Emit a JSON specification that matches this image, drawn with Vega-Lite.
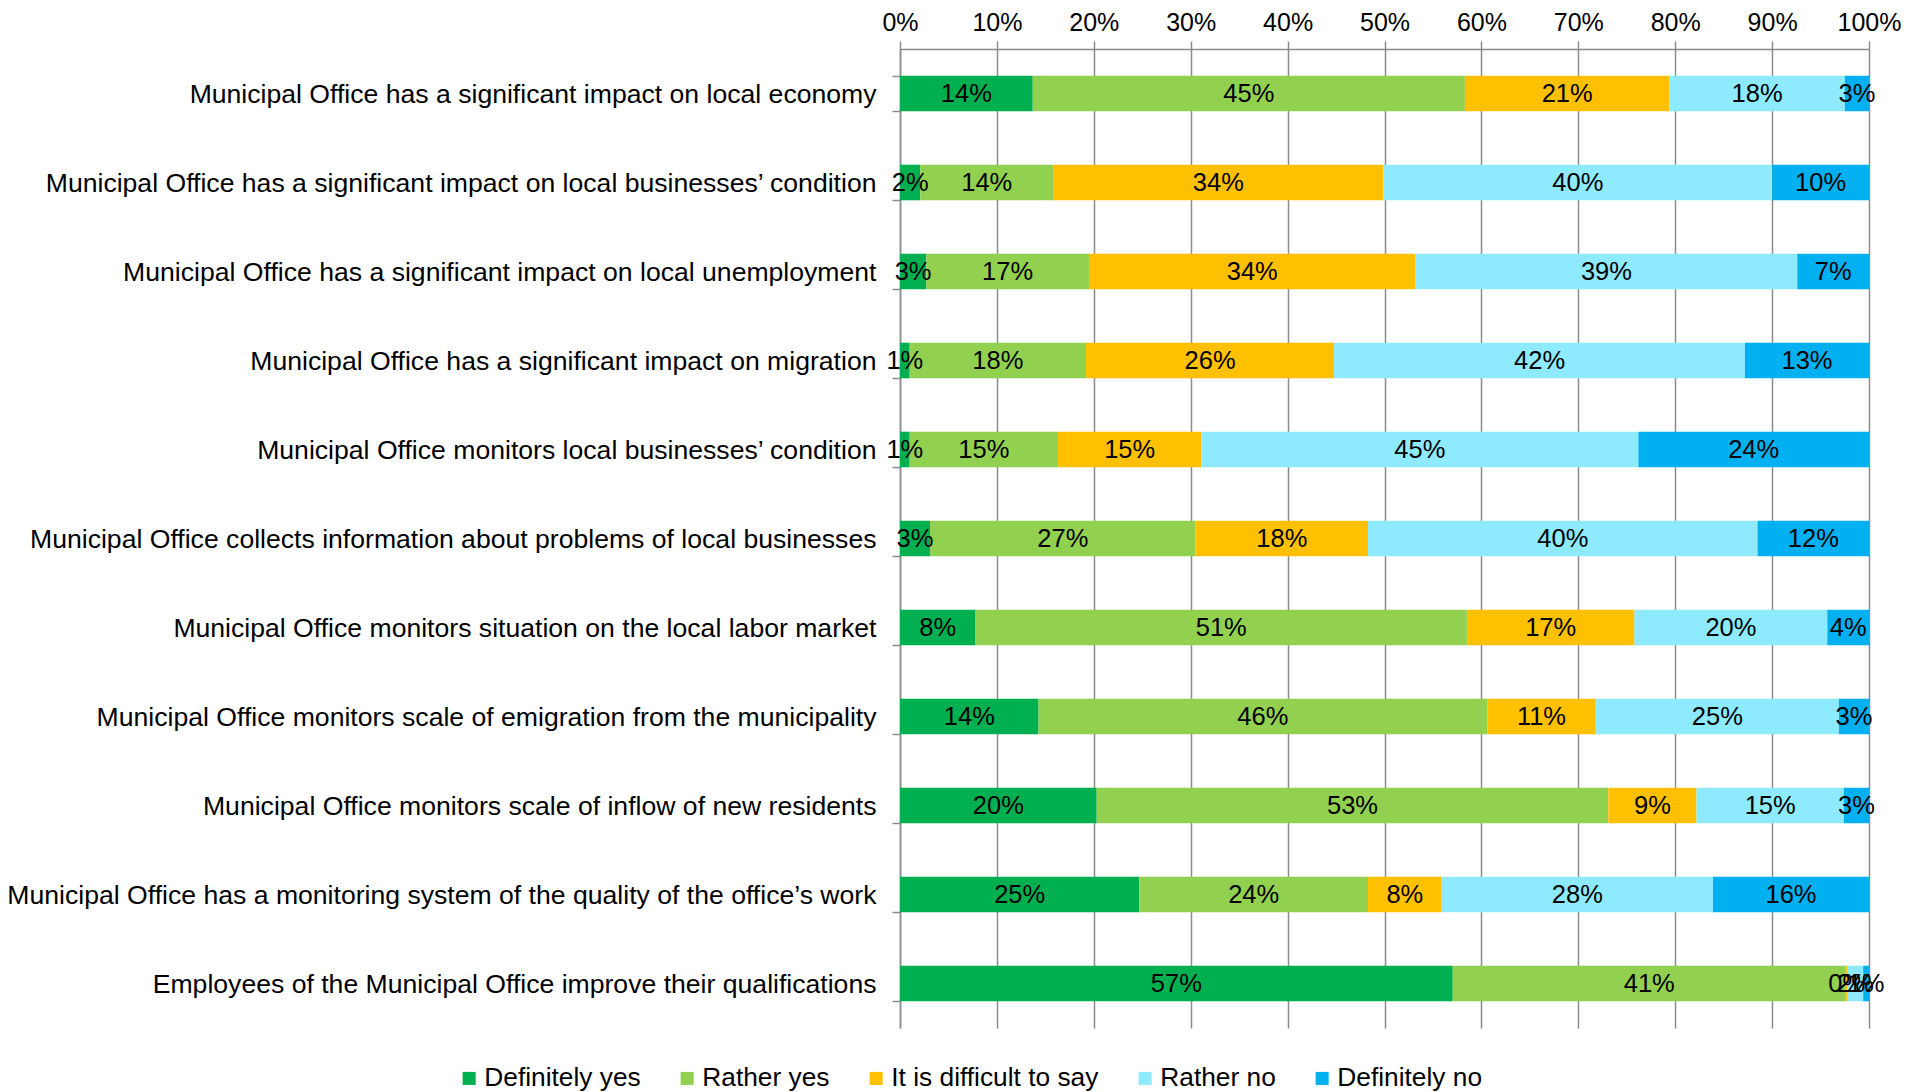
{
  "$schema": "https://vega.github.io/schema/vega-lite/v6.json",
  "autosize": {"type": "none"},
  "padding": {"left": 900, "top": 49, "right": 38, "bottom": 64},
  "width": 969,
  "height": 979,
  "background": "white",
  "config": {
    "font": "Liberation Sans",
    "view": {"stroke": null},
    "axis": {"labelFont": "Liberation Sans", "labelColor": "#000000"},
    "legend": {"labelFont": "Liberation Sans"}
  },
  "data": {
    "values": [
      {"q": "Municipal Office has a significant impact on local economy", "answer": "Definitely yes", "order": 1, "value": 13.7},
      {"q": "Municipal Office has a significant impact on local economy", "answer": "Rather yes", "order": 2, "value": 44.6},
      {"q": "Municipal Office has a significant impact on local economy", "answer": "It is difficult to say", "order": 3, "value": 21.1},
      {"q": "Municipal Office has a significant impact on local economy", "answer": "Rather no", "order": 4, "value": 18.1},
      {"q": "Municipal Office has a significant impact on local economy", "answer": "Definitely no", "order": 5, "value": 2.5},
      {"q": "Municipal Office has a significant impact on local businesses’ condition", "answer": "Definitely yes", "order": 1, "value": 2.1},
      {"q": "Municipal Office has a significant impact on local businesses’ condition", "answer": "Rather yes", "order": 2, "value": 13.7},
      {"q": "Municipal Office has a significant impact on local businesses’ condition", "answer": "It is difficult to say", "order": 3, "value": 34.1},
      {"q": "Municipal Office has a significant impact on local businesses’ condition", "answer": "Rather no", "order": 4, "value": 40.1},
      {"q": "Municipal Office has a significant impact on local businesses’ condition", "answer": "Definitely no", "order": 5, "value": 10.0},
      {"q": "Municipal Office has a significant impact on local unemployment", "answer": "Definitely yes", "order": 1, "value": 2.7},
      {"q": "Municipal Office has a significant impact on local unemployment", "answer": "Rather yes", "order": 2, "value": 16.8},
      {"q": "Municipal Office has a significant impact on local unemployment", "answer": "It is difficult to say", "order": 3, "value": 33.7},
      {"q": "Municipal Office has a significant impact on local unemployment", "answer": "Rather no", "order": 4, "value": 39.4},
      {"q": "Municipal Office has a significant impact on local unemployment", "answer": "Definitely no", "order": 5, "value": 7.4},
      {"q": "Municipal Office has a significant impact on migration", "answer": "Definitely yes", "order": 1, "value": 1.0},
      {"q": "Municipal Office has a significant impact on migration", "answer": "Rather yes", "order": 2, "value": 18.2},
      {"q": "Municipal Office has a significant impact on migration", "answer": "It is difficult to say", "order": 3, "value": 25.6},
      {"q": "Municipal Office has a significant impact on migration", "answer": "Rather no", "order": 4, "value": 42.4},
      {"q": "Municipal Office has a significant impact on migration", "answer": "Definitely no", "order": 5, "value": 12.8},
      {"q": "Municipal Office monitors local businesses’ condition", "answer": "Definitely yes", "order": 1, "value": 1.0},
      {"q": "Municipal Office monitors local businesses’ condition", "answer": "Rather yes", "order": 2, "value": 15.3},
      {"q": "Municipal Office monitors local businesses’ condition", "answer": "It is difficult to say", "order": 3, "value": 14.8},
      {"q": "Municipal Office monitors local businesses’ condition", "answer": "Rather no", "order": 4, "value": 45.1},
      {"q": "Municipal Office monitors local businesses’ condition", "answer": "Definitely no", "order": 5, "value": 23.8},
      {"q": "Municipal Office collects information about problems of local businesses", "answer": "Definitely yes", "order": 1, "value": 3.1},
      {"q": "Municipal Office collects information about problems of local businesses", "answer": "Rather yes", "order": 2, "value": 27.4},
      {"q": "Municipal Office collects information about problems of local businesses", "answer": "It is difficult to say", "order": 3, "value": 17.8},
      {"q": "Municipal Office collects information about problems of local businesses", "answer": "Rather no", "order": 4, "value": 40.2},
      {"q": "Municipal Office collects information about problems of local businesses", "answer": "Definitely no", "order": 5, "value": 11.5},
      {"q": "Municipal Office monitors situation on the local labor market", "answer": "Definitely yes", "order": 1, "value": 7.8},
      {"q": "Municipal Office monitors situation on the local labor market", "answer": "Rather yes", "order": 2, "value": 50.7},
      {"q": "Municipal Office monitors situation on the local labor market", "answer": "It is difficult to say", "order": 3, "value": 17.3},
      {"q": "Municipal Office monitors situation on the local labor market", "answer": "Rather no", "order": 4, "value": 19.9},
      {"q": "Municipal Office monitors situation on the local labor market", "answer": "Definitely no", "order": 5, "value": 4.3},
      {"q": "Municipal Office monitors scale of emigration from the municipality", "answer": "Definitely yes", "order": 1, "value": 14.3},
      {"q": "Municipal Office monitors scale of emigration from the municipality", "answer": "Rather yes", "order": 2, "value": 46.3},
      {"q": "Municipal Office monitors scale of emigration from the municipality", "answer": "It is difficult to say", "order": 3, "value": 11.2},
      {"q": "Municipal Office monitors scale of emigration from the municipality", "answer": "Rather no", "order": 4, "value": 25.1},
      {"q": "Municipal Office monitors scale of emigration from the municipality", "answer": "Definitely no", "order": 5, "value": 3.1},
      {"q": "Municipal Office monitors scale of inflow of new residents", "answer": "Definitely yes", "order": 1, "value": 20.3},
      {"q": "Municipal Office monitors scale of inflow of new residents", "answer": "Rather yes", "order": 2, "value": 52.8},
      {"q": "Municipal Office monitors scale of inflow of new residents", "answer": "It is difficult to say", "order": 3, "value": 9.1},
      {"q": "Municipal Office monitors scale of inflow of new residents", "answer": "Rather no", "order": 4, "value": 15.2},
      {"q": "Municipal Office monitors scale of inflow of new residents", "answer": "Definitely no", "order": 5, "value": 2.6},
      {"q": "Municipal Office has a monitoring system of the quality of the office’s work", "answer": "Definitely yes", "order": 1, "value": 24.7},
      {"q": "Municipal Office has a monitoring system of the quality of the office’s work", "answer": "Rather yes", "order": 2, "value": 23.6},
      {"q": "Municipal Office has a monitoring system of the quality of the office’s work", "answer": "It is difficult to say", "order": 3, "value": 7.6},
      {"q": "Municipal Office has a monitoring system of the quality of the office’s work", "answer": "Rather no", "order": 4, "value": 28.0},
      {"q": "Municipal Office has a monitoring system of the quality of the office’s work", "answer": "Definitely no", "order": 5, "value": 16.1},
      {"q": "Employees of the Municipal Office improve their qualifications", "answer": "Definitely yes", "order": 1, "value": 57.1},
      {"q": "Employees of the Municipal Office improve their qualifications", "answer": "Rather yes", "order": 2, "value": 40.6},
      {"q": "Employees of the Municipal Office improve their qualifications", "answer": "It is difficult to say", "order": 3, "value": 0.2},
      {"q": "Employees of the Municipal Office improve their qualifications", "answer": "Rather no", "order": 4, "value": 1.6},
      {"q": "Employees of the Municipal Office improve their qualifications", "answer": "Definitely no", "order": 5, "value": 0.6}
    ]
  },
  "transform": [
    {"stack": "value", "groupby": ["q"], "sort": [{"field": "order", "order": "ascending"}], "offset": "normalize", "as": ["v0", "v1"]},
    {"calculate": "(datum.v0 + datum.v1) / 2", "as": "mid"},
    {"calculate": "format(datum.value, '.0f') + '%'", "as": "label"}
  ],
  "encoding": {
    "y": {
      "field": "q",
      "type": "nominal",
      "sort": [
        "Municipal Office has a significant impact on local economy",
        "Municipal Office has a significant impact on local businesses’ condition",
        "Municipal Office has a significant impact on local unemployment",
        "Municipal Office has a significant impact on migration",
        "Municipal Office monitors local businesses’ condition",
        "Municipal Office collects information about problems of local businesses",
        "Municipal Office monitors situation on the local labor market",
        "Municipal Office monitors scale of emigration from the municipality",
        "Municipal Office monitors scale of inflow of new residents",
        "Municipal Office has a monitoring system of the quality of the office’s work",
        "Employees of the Municipal Office improve their qualifications"
      ],
      "scale": {"paddingInner": 0.6, "paddingOuter": 0.3},
      "axis": {
        "title": null,
        "labelFontSize": 26.6,
        "labelLimit": 1000,
        "labelPadding": 16,
        "labelOffset": 1,
        "domain": true,
        "domainColor": "#8c8c8c",
        "domainWidth": 1.5,
        "ticks": true,
        "tickBand": "extent",
        "tickSize": 8,
        "tickColor": "#8c8c8c",
        "tickWidth": 1.5,
        "grid": false
      }
    }
  },
  "layer": [
    {
      "mark": {"type": "bar"},
      "encoding": {
        "x": {
          "field": "v0",
          "type": "quantitative",
          "scale": {"domain": [0, 1], "nice": false, "zero": true},
          "axis": {
            "orient": "top",
            "title": null,
            "format": ".0%",
            "values": [0, 0.1, 0.2, 0.3, 0.4, 0.5, 0.6, 0.7, 0.8, 0.9, 1],
            "labelFontSize": 25,
            "labelPadding": 6,
            "labelFlush": false,
            "domainColor": "#8c8c8c",
            "domainWidth": 1.5,
            "tickColor": "#8c8c8c",
            "tickWidth": 1.5,
            "tickSize": 8,
            "grid": true,
            "gridColor": "#8c8c8c",
            "gridWidth": 1.5,
            "gridOpacity": 1
          }
        },
        "x2": {"field": "v1"},
        "color": {
          "field": "answer",
          "type": "nominal",
          "scale": {
            "domain": ["Definitely yes", "Rather yes", "It is difficult to say", "Rather no", "Definitely no"],
            "range": ["#00B050", "#92D050", "#FFC000", "#8EEAFF", "#00B0F0"]
          },
          "legend": {
            "title": null,
            "orient": "none",
            "direction": "horizontal",
            "columns": 5,
            "legendX": -444,
            "legendY": 1016,
            "symbolType": "square",
            "symbolSize": 170,
            "symbolStrokeWidth": 0,
            "labelFontSize": 26.3,
            "labelColor": "#000000",
            "labelOffset": 2,
            "columnPadding": 33,
            "labelLimit": 1000
          }
        }
      }
    },
    {
      "mark": {"type": "text", "align": "center", "baseline": "middle", "fontSize": 25.5, "color": "#000000"},
      "encoding": {
        "x": {"field": "mid", "type": "quantitative"},
        "text": {"field": "label"}
      }
    }
  ]
}
